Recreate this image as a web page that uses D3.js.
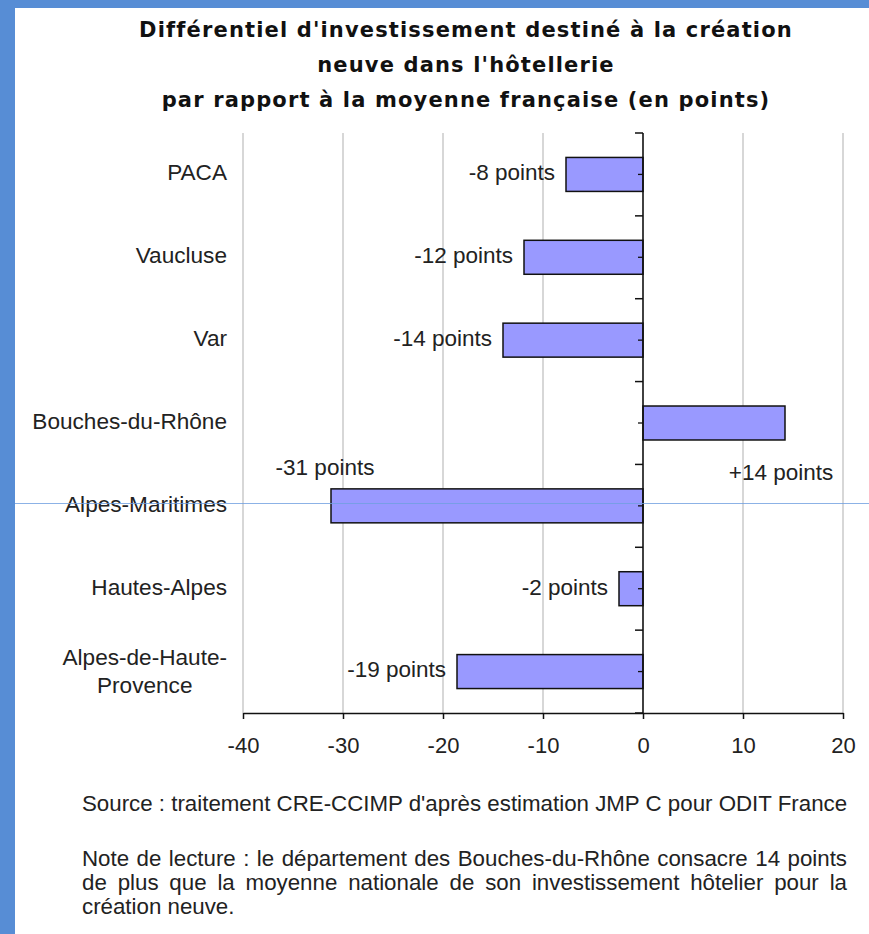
<!DOCTYPE html>
<html>
<head>
<meta charset="utf-8">
<script src="https://cdn.jsdelivr.net/npm/d3@7"></script>
<style>
  body { margin: 0; background: #fff; }
  text { font-family: "Liberation Sans", Arial, sans-serif; }
</style>
</head>
<body>
<svg width="869" height="934"></svg>
<script>
// data
var categories = ["PACA", "Vaucluse", "Var", "Bouches-du-Rhône", "Alpes-Maritimes", "Hautes-Alpes", "Alpes-de-Haute-Provence"];
var values = [-7.7, -11.9, -14.0, 14.2, -31.2, -2.4, -18.6];
var valueLabels = ["-8 points", "-12 points", "-14 points", "+14 points", "-31 points", "-2 points", "-19 points"];
var labelPlacement = ["left", "left", "left", "below", "above", "left", "left"];
var xTicks = [-40, -30, -20, -10, 0, 10, 20];
var titleLines = [
  "Différentiel d'investissement destiné à la création",
  "neuve dans l'hôtellerie",
  "par rapport à la moyenne française (en points)"
];
var sourceText = "Source : traitement CRE-CCIMP d'après estimation JMP C pour ODIT France";
var noteLines = [
  "Note de lecture : le département des Bouches-du-Rhône consacre 14 points",
  "de plus que la moyenne nationale de son investissement hôtelier pour la",
  "création neuve."
];

var svg = d3.select("svg"),
    width = +svg.attr("width"),
    height = +svg.attr("height");

svg.append("rect").attr("width", width).attr("height", height).attr("fill", "#fff");

var plotTop = 133, plotBottom = 713, plotLeft = 243, plotRight = 843;

var x = d3.scaleLinear().domain([-40, 20]).range([plotLeft, plotRight]);
var y = d3.scaleBand().domain(categories).range([plotTop, plotBottom])
    .paddingInner(0.59).paddingOuter(0.295);
var step = y.step(), bw = y.bandwidth();

// title
svg.append("g").selectAll("text")
  .data(titleLines)
  .enter().append("text")
    .attr("x", 466)
    .attr("y", function(d, i) { return 37 + i * 35; })
    .attr("text-anchor", "middle")
    .style("font-family", "'DejaVu Sans', Verdana, sans-serif")
    .style("font-weight", "bold")
    .style("font-size", "21px")
    .style("letter-spacing", "1.15px")
    .attr("fill", "#111")
    .text(function(d) { return d; });

// vertical gridlines
svg.append("g").selectAll("line")
  .data(xTicks.filter(function(d) { return d !== 0; }))
  .enter().append("line")
    .attr("x1", function(d) { return x(d); })
    .attr("x2", function(d) { return x(d); })
    .attr("y1", plotTop)
    .attr("y2", plotBottom)
    .attr("stroke", "#c2c2c2")
    .attr("stroke-width", 1.3);

// bars
svg.append("g").selectAll("rect")
  .data(values)
  .enter().append("rect")
    .attr("x", function(d) { return x(Math.min(0, d)); })
    .attr("y", function(d, i) { return y(categories[i]); })
    .attr("width", function(d) { return Math.abs(x(d) - x(0)); })
    .attr("height", bw)
    .attr("fill", "#9999ff")
    .attr("stroke", "#111")
    .attr("stroke-width", 1.5);

// x axis
var xAxis = svg.append("g")
    .attr("transform", "translate(0," + plotBottom + ")")
    .call(d3.axisBottom(x).tickValues(xTicks).tickSize(6).tickSizeOuter(0).tickPadding(18)
      .tickFormat(function(d) { return String(d); }));
xAxis.select(".domain").attr("stroke", "#111").attr("stroke-width", 1.6);
xAxis.selectAll(".tick line").attr("stroke", "#111").attr("stroke-width", 1.5);
xAxis.selectAll(".tick text")
    .style("font-family", "'Liberation Sans', Arial, sans-serif")
    .style("font-size", "22px")
    .attr("fill", "#222");

// category axis at zero
var yAxis = svg.append("g");
yAxis.append("line")
    .attr("x1", x(0)).attr("x2", x(0))
    .attr("y1", plotTop).attr("y2", plotBottom)
    .attr("stroke", "#111").attr("stroke-width", 1.6);
var bounds = d3.range(categories.length + 1).map(function(i) { return plotTop + i * step; });
yAxis.selectAll(".bound")
  .data(bounds)
  .enter().append("line")
    .attr("class", "bound")
    .attr("x1", x(0) - 8).attr("x2", x(0))
    .attr("y1", function(d) { return d; })
    .attr("y2", function(d) { return d; })
    .attr("stroke", "#111").attr("stroke-width", 1.5);
yAxis.selectAll(".mid")
  .data(categories)
  .enter().append("line")
    .attr("class", "mid")
    .attr("x1", x(0) - 5).attr("x2", x(0))
    .attr("y1", function(d) { return y(d) + bw / 2; })
    .attr("y2", function(d) { return y(d) + bw / 2; })
    .attr("stroke", "#111").attr("stroke-width", 1.3);

// category labels (long names wrap after a hyphen, lines centred in a right-aligned block)
var catSize = "22.6px";
var catG = svg.append("g");
categories.forEach(function(c) {
  var cy = y(c) + bw / 2 - 2;
  var t = catG.append("text")
      .style("font-size", catSize)
      .attr("fill", "#222")
      .attr("text-anchor", "end")
      .attr("x", 227)
      .attr("y", cy)
      .attr("dy", "0.35em")
      .text(c);
  if (t.node().getComputedTextLength() > 200) {
    var cut = c.lastIndexOf("-") + 1;
    var lines = [c.slice(0, cut), c.slice(cut)];
    t.remove();
    var tmp = catG.append("text").style("font-size", catSize).text(lines[0]);
    var w = tmp.node().getComputedTextLength();
    tmp.remove();
    lines.forEach(function(l, k) {
      catG.append("text")
          .style("font-size", catSize)
          .attr("fill", "#222")
          .attr("text-anchor", "middle")
          .attr("x", 227 - w / 2)
          .attr("y", cy + 2 + (k - 0.5) * 28)
          .attr("dy", "0.35em")
          .text(l);
    });
  }
});

// value labels
svg.append("g").selectAll("text")
  .data(values)
  .enter().append("text")
    .style("font-size", "22.5px")
    .attr("fill", "#222")
    .attr("dy", "0.35em")
    .attr("text-anchor", function(d, i) { return labelPlacement[i] === "left" ? "end" : "middle"; })
    .attr("x", function(d, i) {
      var p = labelPlacement[i];
      if (p === "left") return x(d) - 11;
      if (p === "below") return x(d) - 4;
      return x(d) - 6;
    })
    .attr("y", function(d, i) {
      var cy = y(categories[i]) + bw / 2, p = labelPlacement[i];
      if (p === "below") return cy + 49;
      if (p === "above") return cy - 39;
      return cy - 2;
    })
    .text(function(d, i) { return valueLabels[i]; });

// footnotes
var foot = svg.append("g").attr("fill", "#222").style("font-size", "22.3px");
foot.append("text").attr("x", 82).attr("y", 811).text(sourceText);

var left = 82, right = 847;
noteLines.forEach(function(line, i) {
  var yy = 866 + i * 24;
  if (i === noteLines.length - 1) {
    foot.append("text").attr("x", left).attr("y", yy).text(line);
    return;
  }
  var words = line.split(" ");
  var nodes = words.map(function(w) { return foot.append("text").attr("y", yy).text(w); });
  var total = d3.sum(nodes, function(n) { return n.node().getComputedTextLength(); });
  var gap = (right - left - total) / (words.length - 1);
  var cx = left;
  nodes.forEach(function(n) {
    n.attr("x", cx);
    cx += n.node().getComputedTextLength() + gap;
  });
});

// blue frame of the page
svg.append("rect").attr("x", 0).attr("y", 0).attr("width", width).attr("height", 8).attr("fill", "#578dd5");
svg.append("rect").attr("x", 0).attr("y", 0).attr("width", 15).attr("height", height).attr("fill", "#578dd5");

// thin light-blue rule crossing the page
svg.append("line")
    .attr("x1", 15).attr("x2", width)
    .attr("y1", 503.5).attr("y2", 503.5)
    .attr("stroke", "#6f9fe0").attr("stroke-width", 1)
    .attr("stroke-opacity", 0.8);
</script>
</body>
</html>
